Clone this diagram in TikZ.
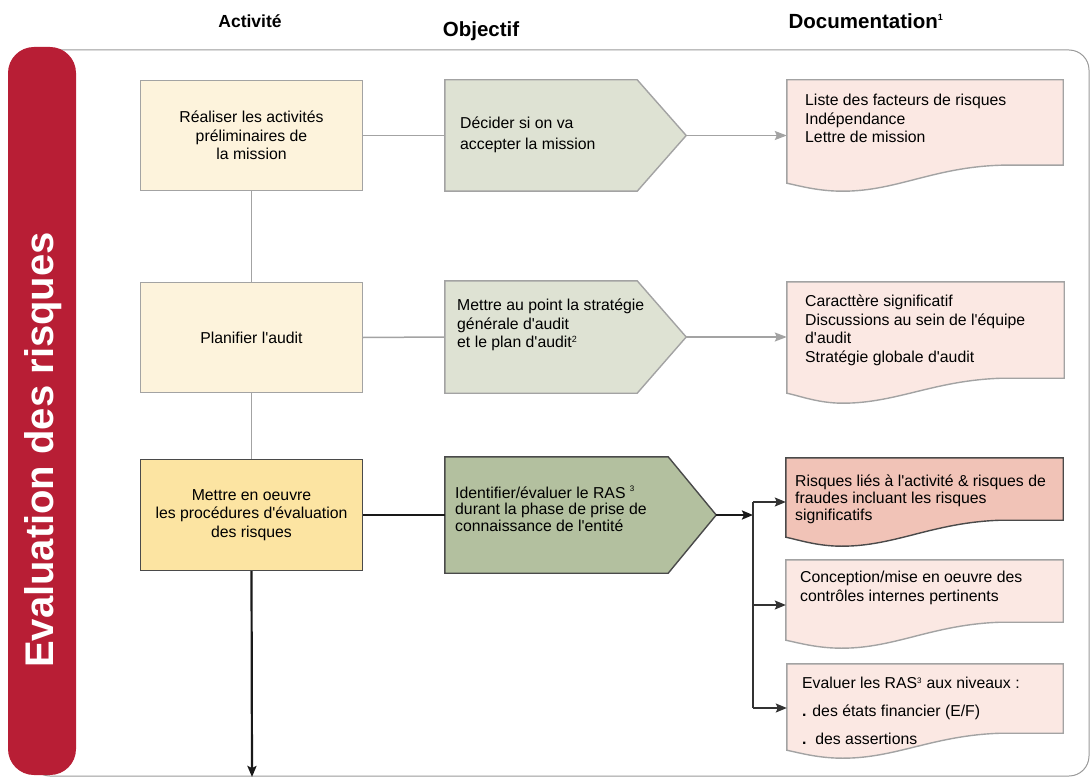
\documentclass[tikz,border=0pt]{standalone}
\usepackage{fontspec}
\setmainfont{Liberation Sans}
\newfontfamily\lsans{Liberation Sans}
\usetikzlibrary{arrows.meta,calc,backgrounds}
\definecolor{cream}{HTML}{FDF3DC}
\definecolor{gold}{HTML}{FCE4A2}
\definecolor{sage}{HTML}{DEE2D3}
\definecolor{sageD}{HTML}{B3C09F}
\definecolor{pinkL}{HTML}{FBE8E3}
\definecolor{salmon}{HTML}{F1C3B7}
\definecolor{grayline}{HTML}{A3A3A3}
\definecolor{darkline}{HTML}{4A4A4A}
\definecolor{redbar}{HTML}{B81E35}
\definecolor{framegray}{HTML}{9A9A9A}
\newcommand\docpath[3]{(#1.north west) -- (#1.north east) -- ([yshift=#2pt]#1.south east) -- ([xshift=-62pt,yshift=#2pt]#1.south east) .. controls ([xshift=-130pt,yshift=#2pt-2pt]#1.south east) and ([xshift=110pt]#1.south west) .. ([xshift=56pt]#1.south west) .. controls ([xshift=32pt]#1.south west) and ([xshift=14pt,yshift=#3pt-3pt]#1.south west) .. ([yshift=#3pt]#1.south west) -- cycle}
\newcommand\pentpath[2]{(#1.north west) -- ([xshift=-#2pt]#1.north east) -- (#1.east) -- ([xshift=-#2pt]#1.south east) -- (#1.south west) -- cycle}
\begin{document}
\lsans
\begin{tikzpicture}[x=1pt,y=-1pt,
  every node/.style={inner sep=0pt},
  base/.style={font=\lsans\fontsize{15.8}{18.5}\selectfont},
  txt/.style={base, align=left},
  hdr/.style={font=\lsans\bfseries\fontsize{#1}{22}\selectfont},
  actbox/.style={base, draw=grayline, fill=cream, line width=1.4pt, minimum width=222pt, minimum height=110pt, align=center},
  gline/.style={draw=grayline, line width=1.5pt},
  bline/.style={draw=black!90, line width=2.2pt},
  tline/.style={draw=black!80, line width=1.3pt},
  garrow/.style={-{Stealth[length=12pt,width=9pt,inset=2pt]}},
  barrow/.style={-{Stealth[length=11pt,width=9pt,inset=2pt]}},
]
\useasboundingbox (0,0) rectangle (1092,778);
% frame
\draw[framegray, line width=1pt, rounded corners=20pt] (30,50) rectangle (1089,776);
% red bar
\node[fill=redbar, rounded corners=26pt, minimum width=68pt, minimum height=728pt] (bar) at (42,411) {};
\node[rotate=90, text=white, font=\lsans\bfseries\fontsize{40}{42}\selectfont] (bartxt) at (43,450) {Evaluation des risques};
% headers
\node[hdr=17.5] (h1) at (250,21) {Activité};
\node[hdr=20.5] (h2) at (481,31) {Objectif};
\node[hdr=20.5] (h3) at (866,21) {Documentation\textsuperscript{\fontsize{9}{9}\selectfont 1}};
% activity boxes
\node[actbox] (a1) at (251.5,135.5) {Réaliser les activités\\préliminaires de\\la mission};
\node[actbox] (a2) at (251.5,337.5) {Planifier l'audit};
\node[actbox, fill=gold, draw=darkline, minimum height=111pt] (a3) at (251.5,515) {Mettre en oeuvre\\les procédures d'évaluation\\des risques};
% objective shapes (invisible frames)
\node[minimum width=241pt, minimum height=111pt] (o1) at (565.5,135.5) {};
\node[minimum width=241pt, minimum height=112pt] (o2) at (565.5,337) {};
\node[minimum width=271pt, minimum height=116pt] (o3) at (580.5,515) {};
% document frames
\node[minimum width=276pt, minimum height=111pt] (d1) at (925,135.5) {};
\node[minimum width=277pt, minimum height=121pt] (d2) at (925.5,342.5) {};
\node[minimum width=277pt, minimum height=88pt] (d3) at (924.5,502) {};
\node[minimum width=277pt, minimum height=88pt] (d4) at (924.5,604) {};
\node[minimum width=276pt, minimum height=94pt] (d5) at (925,711) {};
\begin{scope}[on background layer]
  \path[fill=sage, draw=grayline, line width=1.4pt, line join=miter] \pentpath{o1}{49};
  \path[fill=sage, draw=grayline, line width=1.4pt, line join=miter] \pentpath{o2}{49};
  \path[fill=sageD, draw=darkline, line width=1.4pt, line join=miter] \pentpath{o3}{48};
  \path[fill=pinkL, draw=grayline, line width=1.4pt] \docpath{d1}{26}{8};
  \path[fill=pinkL, draw=grayline, line width=1.4pt] \docpath{d2}{25}{10};
  \path[fill=salmon, draw=darkline, line width=1.4pt] \docpath{d3}{26}{9};
  \path[fill=pinkL, draw=grayline, line width=1.4pt] \docpath{d4}{26}{8};
  \path[fill=pinkL, draw=grayline, line width=1.4pt] \docpath{d5}{25}{8};
\end{scope}
% objective texts
\node[txt, anchor=north west, font=\lsans\fontsize{15.8}{20.5}\selectfont] (o1t) at (460,117) {Décider si on va\\accepter la mission};
\node[txt, anchor=north west] (o2t) at (457,299) {Mettre au point la stratégie\\générale d'audit\\et le plan d'audit\textsuperscript{\fontsize{9}{9}\selectfont 2}};
\node[txt, anchor=north west, font=\lsans\fontsize{15.8}{16.5}\selectfont] (o3t) at (455,486) {Identifier/évaluer le RAS \raisebox{1pt}{\textsuperscript{\fontsize{8}{8}\selectfont 3}}\\durant la phase de prise de\\connaissance de l'entité};
% document texts
\node[txt, anchor=north west] (d1t) at (805,94) {Liste des facteurs de risques\\Indépendance\\Lettre de mission};
\node[txt, anchor=north west] (d2t) at (805,295) {Caracttère significatif\\Discussions au sein de l'équipe\\d'audit\\Stratégie globale d'audit};
\node[txt, anchor=north west, font=\lsans\fontsize{15.8}{17}\selectfont] (d3t) at (795,475) {Risques liés à l'activité \& risques de\\fraudes incluant les risques\\significatifs};
\node[txt, anchor=north west] (d4t) at (800,571) {Conception/mise en oeuvre des\\contrôles internes pertinents};
\node[txt, anchor=north west, font=\lsans\fontsize{15.8}{28}\selectfont] (d5t) at (802,677) {Evaluer les RAS\textsuperscript{\fontsize{8}{8}\selectfont 3} aux niveaux :\\{\bfseries .} des états financier (E/F)\\{\bfseries .}\ \ des assertions};
% connectors
\coordinate (j) at (753,515);
\coordinate (jt) at (753,502);
\coordinate (jm) at (753,605);
\coordinate (jb) at (753,708);
\coordinate (bot) at (252,777);
\draw[gline] (a1.east) -- (o1.west);
\draw[gline, garrow] (o1.east) -- (o1.east -| d1.west);
\draw[gline] (a2.east) -- (o2.west);
\draw[gline, garrow] (o2.east) -- (o2.east -| d2.west);
\draw[gline] (a1.south) -- (a2.north);
\draw[gline] (a2.south) -- (a3.north);
\draw[bline] (a3.east) -- (o3.west);
\draw[bline, barrow] (o3.east) -- (j);
\draw[tline] (jt) -- (jb);
\draw[tline, barrow] (jt) -- (jt -| d3.west);
\draw[tline, barrow] (jm) -- (jm -| d4.west);
\draw[tline, barrow] (jb) -- (jb -| d5.west);
\draw[bline, barrow] (a3.south) -- (bot);
\end{tikzpicture}
\end{document}
